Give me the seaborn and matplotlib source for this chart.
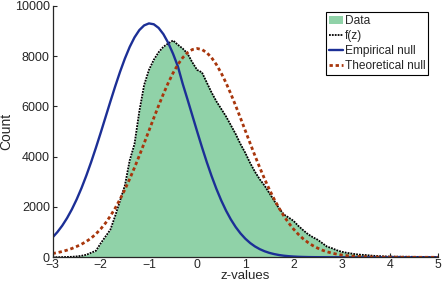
import numpy as np
import pandas as pd
import seaborn as sns
import matplotlib.pyplot as plt
from matplotlib.patches import Patch
from matplotlib.lines import Line2D

# z grid (step 0.1) from -3 to 5
z_values = np.round(np.arange(-3.0, 5.0001, 0.1), 1)

# histogram counts
data_counts = [
    5, 5, 8, 12, 20, 35, 60, 100, 180, 260,
    560, 830, 1100, 1650, 2250, 2850, 3850, 4500, 5800, 6850,
    7450, 7850, 8150, 8370, 8500, 8620, 8450, 8300, 8100, 7750,
    7450, 7350, 6950, 6550, 6200, 5900, 5600, 5250, 4900, 4500,
    4150, 3750, 3400, 3100, 2850, 2550, 2250, 1950, 1700, 1580,
    1450, 1250, 1080, 920, 800, 700, 560, 420, 360, 280,
    220, 180, 150, 120, 100, 90, 70, 55, 45, 35,
    30, 28, 25, 22, 20, 18, 16, 14, 12, 10, 10,
]

# empirical null curve
empirical_null = [
    791, 1004, 1258, 1558, 1906, 2305, 2752, 3248, 3786, 4361,
    4961, 5579, 6197, 6800, 7374, 7899, 8361, 8742, 9032, 9219,
    9298, 9264, 9120, 8870, 8524, 8092, 7591, 6900, 6278, 5641,
    5003, 4380, 3785, 3230, 2720, 2261, 1856, 1504, 1203, 950,
    740, 569, 432, 324, 240, 175, 127, 90, 63, 44,
    30, 20, 14, 9, 6, 4, 3, 2, 1, 1,
    0, 0, 0, 0, 0, 0, 0, 0, 0, 0,
    0, 0, 0, 0, 0, 0, 0, 0, 0, 0, 0,
]

# theoretical null curve
theoretical_null = [
    150, 185, 230, 285, 350, 430, 520, 630, 760, 930,
    1130, 1365, 1643, 1956, 2307, 2695, 3115, 3566, 4040, 4533,
    5034, 5536, 6027, 6496, 6933, 7325, 7662, 7935, 8136, 8259,
    8300, 8259, 8136, 7935, 7662, 7325, 6933, 6496, 6027, 5536,
    5034, 4533, 4040, 3566, 3115, 2695, 2307, 1956, 1643, 1365,
    1123, 915, 738, 589, 466, 365, 282, 217, 165, 124,
    92, 68, 50, 36, 26, 18, 13, 9, 6, 4,
    3, 2, 1, 1, 1, 0, 0, 0, 0, 0, 0,
]

x_ticks = [-3, -2, -1, 0, 1, 2, 3, 4, 5]
y_ticks = [0, 2000, 4000, 6000, 8000, 10000]

df = pd.DataFrame({
    "z": z_values,
    "data": data_counts,
    "empirical": empirical_null,
    "theoretical": theoretical_null,
})

green = "#90d2a8"
blue = "#1c2f96"
red = "#a8360c"
dots = (0, (1, 0.6))
dashes = (0, (1.2, 1.0))

sns.set_style("ticks")
plt.rcParams["font.family"] = ["Liberation Sans", "DejaVu Sans"]

fig = plt.figure(figsize=(4.42, 2.82), dpi=100)
ax = fig.add_axes([0.119, 0.0876, 0.872, 0.892])

ax.fill_between(df["z"], df["data"], color=green, linewidth=0)
sns.lineplot(data=df, x="z", y="data", ax=ax, color="black",
             linestyle=dots, linewidth=1.3)
sns.lineplot(data=df, x="z", y="empirical", ax=ax, color=blue, linewidth=1.7)
sns.lineplot(data=df, x="z", y="theoretical", ax=ax, color=red,
             linestyle=dashes, linewidth=2.0)

ax.set_xlim(-3, 5)
ax.set_ylim(0, 10000)
ax.set_xticks(x_ticks)
ax.set_yticks(y_ticks)
ax.tick_params(direction="in", length=3, width=0.8, labelsize=9, pad=2)
ax.tick_params(axis="x", labelsize=8.8, pad=1)
sns.despine(ax=ax)
for s in ["left", "bottom"]:
    ax.spines[s].set_linewidth(0.9)
ax.set_xlabel("z-values", fontsize=9.5, labelpad=-0.5)
ax.set_ylabel("Count", fontsize=10, labelpad=1)

handles = [
    Patch(facecolor=green, edgecolor="none"),
    Line2D([], [], color="black", linestyle=dots, linewidth=1.3),
    Line2D([], [], color=blue, linewidth=1.7),
    Line2D([], [], color=red, linestyle=dashes, linewidth=2.0),
]
labels = ["Data", "f(z)", "Empirical null", "Theoretical null"]
leg = ax.legend(handles, labels, loc="upper right", bbox_to_anchor=(0.975, 0.975),
                frameon=True, fancybox=False, framealpha=1, edgecolor="black",
                handlelength=1.2, handletextpad=0.15, borderpad=0.25,
                labelspacing=0.25, borderaxespad=0, fontsize=8.6)
leg.get_frame().set_linewidth(0.8)

fig.savefig("out.png", dpi=100)
